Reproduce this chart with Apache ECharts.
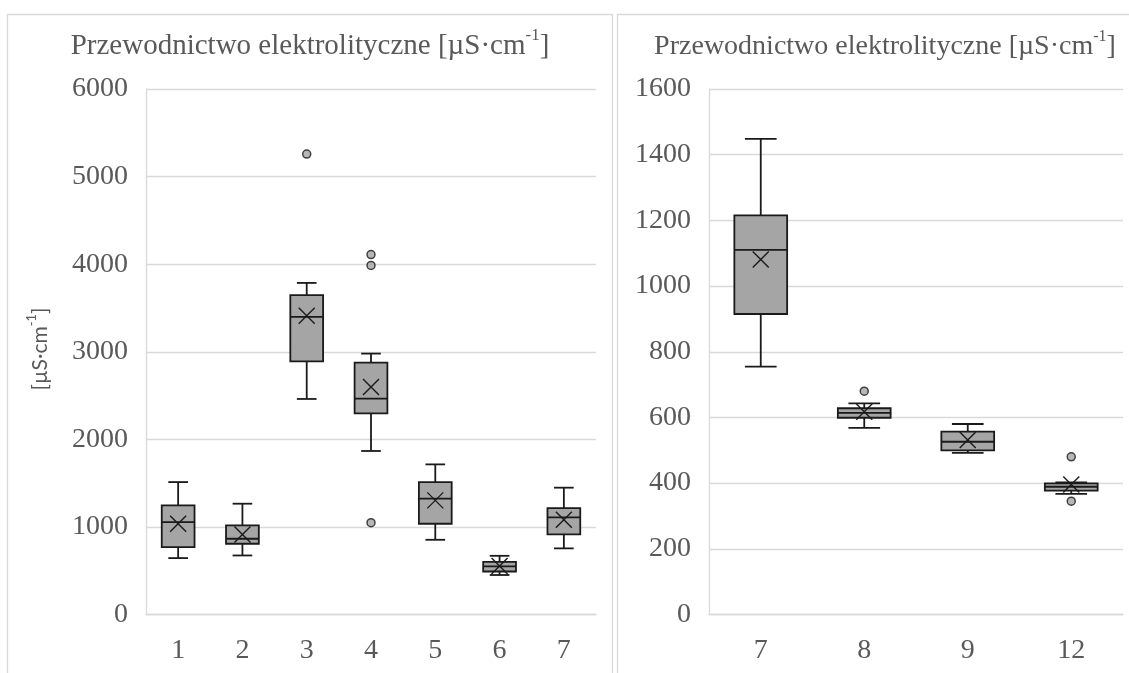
<!DOCTYPE html>
<html>
<head>
<meta charset="utf-8">
<script src="https://cdn.jsdelivr.net/npm/echarts@6/dist/echarts.min.js"></script>
<style>
  html, body { margin: 0; padding: 0; background: #ffffff; }
  #chart { width: 1129px; height: 673px; }
</style>
</head>
<body>
<div id="chart"></div>
<script>
// Electrical conductivity per sampling point, box-and-whisker summaries
const titleText = 'Przewodnictwo elektrolityczne [µS·cm';
const unitText = '[µS·cm';

// Left panel: points 1–7
const leftCategories = ['1', '2', '3', '4', '5', '6', '7'];
const leftMin    = [644, 674, 2461, 1867,  853, 451,  755];
const leftQ1     = [769, 808, 2891, 2297, 1036, 491,  915];
const leftMedian = [1055, 865, 3398, 2465, 1322, 549, 1110];
const leftQ3     = [1246, 1017, 3646, 2876, 1512, 600, 1215];
const leftMax    = [1512, 1265, 3786, 2979, 1714, 670, 1448];
const leftMean   = [1036, 914, 3410, 2598, 1303, 554, 1081];
const leftOutliers = [[2, 5257], [3, 4110], [3, 3985], [3, 1048]];
const leftTicks = { min: 0, max: 6000, interval: 1000 };

// Right panel: points 7, 8, 9, 12
const rightCategories = ['7', '8', '9', '12'];
const rightMin    = [755, 568, 492, 367];
const rightQ1     = [915, 599, 500, 377];
const rightMedian = [1110, 614, 526, 389];
const rightQ3     = [1215, 628, 557, 399];
const rightMax    = [1448, 643, 580, 402];
const rightMean   = [1081, 617, 531, 396];
const rightOutliers = [[1, 680], [3, 480], [3, 345]];
const rightTicks = { min: 0, max: 1600, interval: 200 };

const TEXT = '#595959';
const GRID = '#d9d9d9';
const SERIF = '"Liberation Serif", "Times New Roman", serif';
const SANS = 'Lato, "Open Sans", sans-serif';
const BOX_FILL = '#a5a5a5';
const INK = '#1a1a1a';

function boxRows(mn, q1, md, q3, mx, mean) {
  return mn.map((v, i) => [i, v, q1[i], md[i], q3[i], mx[i], mean[i]]);
}

function renderBox(params, api) {
  const idx = api.value(0);
  const band = api.size([1, 0])[0];
  const bw = band * 0.51;
  const cap = bw * 0.3;
  const x = api.coord([idx, 0])[0];
  const y = (k) => api.coord([idx, api.value(k)])[1];
  const yMin = y(1), yQ1 = y(2), yMed = y(3), yQ3 = y(4), yMax = y(5), yMean = y(6);
  const line = { stroke: INK, lineWidth: 1.8 };
  const m = 8;
  return {
    type: 'group',
    children: [
      { type: 'line', shape: { x1: x, y1: yMax, x2: x, y2: yQ3 }, style: line },
      { type: 'line', shape: { x1: x, y1: yQ1, x2: x, y2: yMin }, style: line },
      { type: 'line', shape: { x1: x - cap, y1: yMax, x2: x + cap, y2: yMax }, style: line },
      { type: 'line', shape: { x1: x - cap, y1: yMin, x2: x + cap, y2: yMin }, style: line },
      { type: 'rect', shape: { x: x - bw / 2, y: yQ3, width: bw, height: yQ1 - yQ3 },
        style: { fill: BOX_FILL, stroke: INK, lineWidth: 1.8 } },
      { type: 'line', shape: { x1: x - bw / 2, y1: yMed, x2: x + bw / 2, y2: yMed }, style: line },
      { type: 'line', shape: { x1: x - m, y1: yMean - m, x2: x + m, y2: yMean + m }, style: { stroke: INK, lineWidth: 1.4 } },
      { type: 'line', shape: { x1: x - m, y1: yMean + m, x2: x + m, y2: yMean - m }, style: { stroke: INK, lineWidth: 1.4 } }
    ]
  };
}

function xAxisFor(gridIndex, cats) {
  return {
    type: 'category', gridIndex, data: cats,
    axisLine: { lineStyle: { color: GRID, width: 1.3 } },
    axisTick: { show: false },
    axisLabel: { color: TEXT, fontFamily: SERIF, fontSize: 28, margin: 22 },
    splitLine: { show: false }
  };
}

function yAxisFor(gridIndex, t) {
  return {
    type: 'value', gridIndex, min: t.min, max: t.max, interval: t.interval,
    axisLine: { show: true, lineStyle: { color: GRID, width: 1.3 } },
    axisTick: { show: false },
    axisLabel: { color: TEXT, fontFamily: SERIF, fontSize: 28, margin: 18,
                 padding: [4, 0, 0, 0], formatter: (v) => String(v) },
    splitLine: { lineStyle: { color: GRID, width: 1.3 } }
  };
}

function outlierSeries(idx, pts) {
  return {
    type: 'scatter', xAxisIndex: idx, yAxisIndex: idx, data: pts,
    symbol: 'circle', symbolSize: 8, z: 5,
    itemStyle: { color: BOX_FILL, borderColor: INK, borderWidth: 1.5 }
  };
}

function titleRich(size, supSize) {
  return {
    a: { fontFamily: SERIF, fontSize: size, fill: TEXT, lineHeight: size + 4, verticalAlign: 'bottom' },
    s: { fontFamily: SERIF, fontSize: supSize, fill: TEXT, lineHeight: size + 4, verticalAlign: 'top' }
  };
}

const chart = echarts.init(document.getElementById('chart'), null, { renderer: 'canvas' });

chart.setOption({
  animation: false,
  backgroundColor: '#ffffff',
  grid: [
    { left: 146, right: 533, top: 89, bottom: 58.5 },
    { left: 709, right: 6, top: 89, bottom: 58.5 }
  ],
  xAxis: [xAxisFor(0, leftCategories), xAxisFor(1, rightCategories)],
  yAxis: [yAxisFor(0, leftTicks), yAxisFor(1, rightTicks)],
  graphic: [
    { type: 'rect', silent: true, z: -10,
      shape: { x: 7.5, y: 14.5, width: 605, height: 700 },
      style: { fill: 'none', stroke: GRID, lineWidth: 1.3 } },
    { type: 'rect', silent: true, z: -10,
      shape: { x: 617.5, y: 14.5, width: 530, height: 700 },
      style: { fill: 'none', stroke: GRID, lineWidth: 1.3 } },
    { type: 'text', x: 310, y: 44, silent: true,
      style: { text: '{a|' + titleText + '}{s|-1}{a|]}', rich: titleRich(29, 17),
               textAlign: 'center', textVerticalAlign: 'middle' } },
    { type: 'text', x: 885, y: 45, silent: true,
      style: { text: '{a|' + titleText + '}{s|-1}{a|]}', rich: titleRich(28, 16),
               textAlign: 'center', textVerticalAlign: 'middle' } },
    { type: 'text', x: 38, y: 349, rotation: Math.PI / 2, silent: true,
      style: { text: '{a|' + unitText + '}{s|-1}{a|]}',
               rich: {
                 a: { fontFamily: SANS, fontSize: 21, fill: TEXT, lineHeight: 25, verticalAlign: 'bottom' },
                 s: { fontFamily: SANS, fontSize: 13, fill: TEXT, lineHeight: 25, verticalAlign: 'top' }
               },
               textAlign: 'center', textVerticalAlign: 'middle' } }
  ],
  series: [
    { type: 'custom', xAxisIndex: 0, yAxisIndex: 0, renderItem: renderBox,
      encode: { x: 0, y: [1, 2, 3, 4, 5, 6] },
      data: boxRows(leftMin, leftQ1, leftMedian, leftQ3, leftMax, leftMean) },
    { type: 'custom', xAxisIndex: 1, yAxisIndex: 1, renderItem: renderBox,
      encode: { x: 0, y: [1, 2, 3, 4, 5, 6] },
      data: boxRows(rightMin, rightQ1, rightMedian, rightQ3, rightMax, rightMean) },
    outlierSeries(0, leftOutliers),
    outlierSeries(1, rightOutliers)
  ]
});
</script>
</body>
</html>
